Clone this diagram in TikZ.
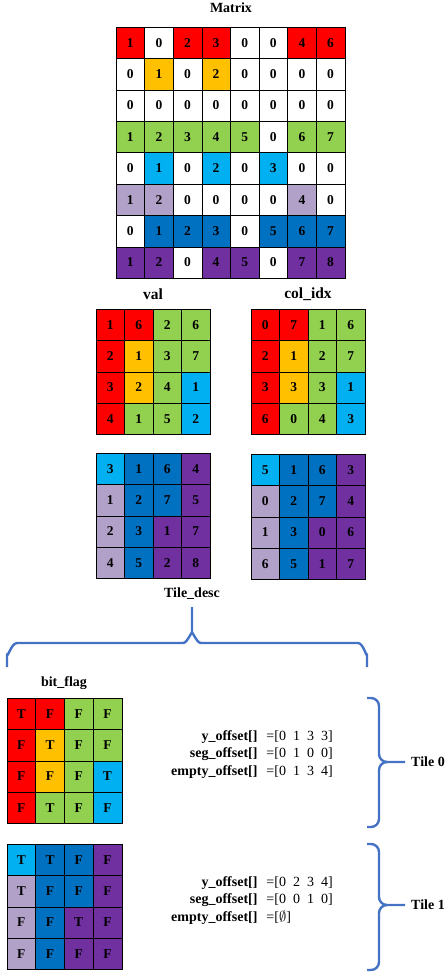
\documentclass[tikz,border=0pt]{standalone}
\usepackage{fontspec}
\setmainfont{Liberation Serif}
\usepackage{tikz}
\definecolor{cR}{RGB}{255,0,0}
\definecolor{cO}{RGB}{255,192,0}
\definecolor{cG}{RGB}{146,208,80}
\definecolor{cC}{RGB}{0,176,240}
\definecolor{cL}{RGB}{177,160,199}
\definecolor{cB}{RGB}{0,112,192}
\definecolor{cP}{RGB}{112,48,160}
\definecolor{cW}{RGB}{255,255,255}
\definecolor{braceblue}{RGB}{68,114,196}
\tikzset{
  gridcell/.style={draw=black, line width=.6pt, inner sep=0pt,
    minimum height=31.4pt, font=\bfseries\fontsize{13.5}{15}\selectfont},
  gridtitle/.style={inner sep=0pt, font=\bfseries\fontsize{14}{16}\selectfont},
  tilebrace/.style={draw=braceblue, line width=2.4pt, line join=round}
}
% one colored grid: name, left, top, cell width, rows of color/text
\newcommand{\cellgrid}[5]{%
  \foreach \gridrow [count=\ri] in {#5}{%
    \foreach \gridfill/\gridtext [count=\ci] in \gridrow{%
      \node[gridcell, fill=\gridfill, minimum width=#4pt] (#1-\ri-\ci)
        at ({#2+(\ci-.5)*#4},{#3+(\ri-.5)*31.4}) {\gridtext};
    }%
  }%
}

\begin{document}
\begin{tikzpicture}[x=1pt,y=-1pt]
  \useasboundingbox (0,0) rectangle (447,975);

  % The full matrix.
  \node[gridtitle] (mattitle) at (231,8) {Matrix};
  \cellgrid{mat}{116}{27}{28.6}{%
    {cR/1,cW/0,cR/2,cR/3,cW/0,cW/0,cR/4,cR/6},
    {cW/0,cO/1,cW/0,cO/2,cW/0,cW/0,cW/0,cW/0},
    {cW/0,cW/0,cW/0,cW/0,cW/0,cW/0,cW/0,cW/0},
    {cG/1,cG/2,cG/3,cG/4,cG/5,cW/0,cG/6,cG/7},
    {cW/0,cC/1,cW/0,cC/2,cW/0,cC/3,cW/0,cW/0},
    {cL/1,cL/2,cW/0,cW/0,cW/0,cW/0,cL/4,cW/0},
    {cW/0,cB/1,cB/2,cB/3,cW/0,cB/5,cB/6,cB/7},
    {cP/1,cP/2,cW/0,cP/4,cP/5,cW/0,cP/7,cP/8}}

  % val and col_idx, two tiles each.
  \node[gridtitle, font=\bfseries\fontsize{15.5}{17}\selectfont]
    (valtitle) at (153,294) {val};
  \node[gridtitle, font=\bfseries\fontsize{15.5}{17}\selectfont]
    (idxtitle) at (308,294) {col\_idx};
  \cellgrid{val}{96}{309}{28.5}{%
    {cR/1,cR/6,cG/2,cG/6},
    {cR/2,cO/1,cG/3,cG/7},
    {cR/3,cO/2,cG/4,cC/1},
    {cR/4,cG/1,cG/5,cC/2}}
  \cellgrid{valb}{96}{453}{28.5}{%
    {cC/3,cB/1,cB/6,cP/4},
    {cL/1,cB/2,cB/7,cP/5},
    {cL/2,cB/3,cP/1,cP/7},
    {cL/4,cB/5,cP/2,cP/8}}
  \cellgrid{idx}{251}{309}{28.5}{%
    {cR/0,cR/7,cG/1,cG/6},
    {cR/2,cO/1,cG/2,cG/7},
    {cR/3,cO/3,cG/3,cC/1},
    {cR/6,cG/0,cG/4,cC/3}}
  \cellgrid{idxb}{251}{454}{28.5}{%
    {cC/5,cB/1,cB/6,cP/3},
    {cL/0,cB/2,cB/7,cP/4},
    {cL/1,cB/3,cP/0,cP/6},
    {cL/6,cB/5,cP/1,cP/7}}

  % Tile_desc brace over both tiles.
  \node[gridtitle] (desctitle) at (192,594) {Tile\_desc};
  \draw[tilebrace] (7,667) -- (7,654) to[out=-90,in=180] (17,643)
    -- (183,643) to[out=0,in=90] (192,634) -- (192,607);
  \draw[tilebrace] (192,634) to[out=90,in=180] (201,643) -- (358,643)
    to[out=0,in=-90] (367,654) -- (367,667);

  % bit_flag for tile 0 and tile 1.
  \node[gridtitle] (flagtitle) at (64,683) {bit\_flag};
  \cellgrid{flag}{7}{698}{28.7}{%
    {cR/T,cR/F,cG/F,cG/F},
    {cR/F,cO/T,cG/F,cG/F},
    {cR/F,cO/F,cG/F,cC/T},
    {cR/F,cG/T,cG/F,cC/F}}
  \cellgrid{flagb}{7}{844}{28.7}{%
    {cC/T,cB/T,cB/F,cP/F},
    {cL/T,cB/F,cB/F,cP/F},
    {cL/F,cB/F,cP/T,cP/F},
    {cL/F,cB/F,cP/F,cP/F}}

  % Offsets per tile.
  \node[anchor=west, inner sep=0pt, font=\fontsize{14}{17.5}\selectfont]
    (offs) at (171,754) {%
    \begin{tabular}{@{}r@{\hspace{9pt}}l@{}}
      \textbf{y\_offset[]} & =[0~~1~~3~~3]\\
      \textbf{seg\_offset[]} & =[0~~1~~0~~0]\\
      \textbf{empty\_offset[]} & =[0~~1~~3~~4]
    \end{tabular}};
  \node[anchor=west, inner sep=0pt, font=\fontsize{14}{17.5}\selectfont]
    (offsb) at (171,900) {%
    \begin{tabular}{@{}r@{\hspace{9pt}}l@{}}
      \textbf{y\_offset[]} & =[0~~2~~3~~4]\\
      \textbf{seg\_offset[]} & =[0~~0~~1~~0]\\
      \textbf{empty\_offset[]} & =[$\emptyset$]
    \end{tabular}};

  % Right braces with tile names.
  \draw[tilebrace] (367,698) -- (371,698) to[out=0,in=90] (379,706)
    -- (379,754) to[out=-90,in=180] (387,762) -- (405,762);
  \draw[tilebrace] (387,762) to[out=180,in=90] (379,770) -- (379,819)
    to[out=-90,in=0] (371,827) -- (367,827);
  \node[gridtitle, anchor=west] (tilea) at (411,762) {Tile 0};
  \draw[tilebrace] (367,844) -- (371,844) to[out=0,in=90] (379,852)
    -- (379,897) to[out=-90,in=180] (387,905) -- (405,905);
  \draw[tilebrace] (387,905) to[out=180,in=90] (379,913) -- (379,962)
    to[out=-90,in=0] (371,970) -- (367,970);
  \node[gridtitle, anchor=west] (tileb) at (411,905) {Tile 1};
\end{tikzpicture}
\end{document}
